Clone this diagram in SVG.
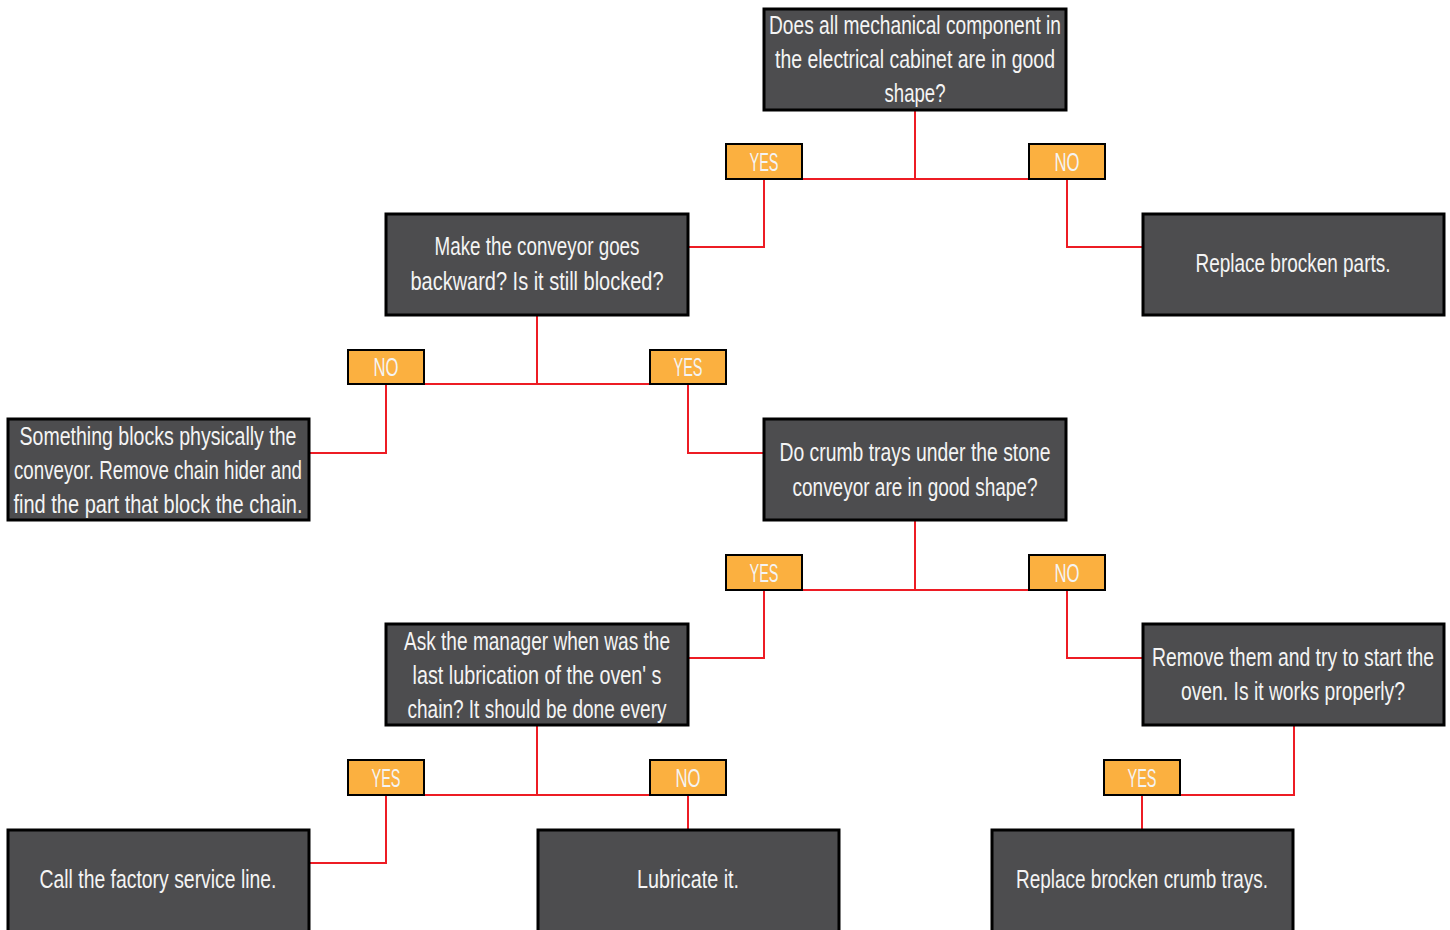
<svg xmlns="http://www.w3.org/2000/svg" width="1450" height="930" viewBox="0 0 1450 930">
<style>
.node{fill:#4d4d4f;stroke:#000;stroke-width:3}
.lab{fill:#fbb040;stroke:#000;stroke-width:2}
.t{font-family:"Liberation Sans",Arial,sans-serif;font-size:25px;fill:#f4f4f4;text-anchor:middle}
.c{fill:none;stroke:#ed1c24;stroke-width:2}
</style>
<rect width="1450" height="930" fill="#fff"/>
<g id="connectors">
<path class="c" d="M915,111V179M764,179H1067M764,179V247H689M1067,179V247H1142"/>
<path class="c" d="M537,316V384M386,384H688M386,384V453H310M688,384V453H764"/>
<path class="c" d="M915,521V590M764,590H1067M764,590V658H689M1067,590V658H1142"/>
<path class="c" d="M537,726V795M386,795H688M386,795V863H310M688,795V829"/>
<path class="c" d="M1294,726V795H1142V829"/>
</g>
<g id="labels">
<g id="lab-a-yes"><rect class="lab" x="726" y="144" width="76" height="35"/><text class="t" x="764" y="171" textLength="29" lengthAdjust="spacingAndGlyphs">YES</text></g>
<g id="lab-a-no"><rect class="lab" x="1029" y="144" width="76" height="35"/><text class="t" x="1067" y="171" textLength="25" lengthAdjust="spacingAndGlyphs">NO</text></g>
<g id="lab-b-no"><rect class="lab" x="348" y="350" width="76" height="34"/><text class="t" x="386" y="376" textLength="25" lengthAdjust="spacingAndGlyphs">NO</text></g>
<g id="lab-b-yes"><rect class="lab" x="650" y="350" width="76" height="34"/><text class="t" x="688" y="376" textLength="29" lengthAdjust="spacingAndGlyphs">YES</text></g>
<g id="lab-c-yes"><rect class="lab" x="726" y="555" width="76" height="35"/><text class="t" x="764" y="582" textLength="29" lengthAdjust="spacingAndGlyphs">YES</text></g>
<g id="lab-c-no"><rect class="lab" x="1029" y="555" width="76" height="35"/><text class="t" x="1067" y="582" textLength="25" lengthAdjust="spacingAndGlyphs">NO</text></g>
<g id="lab-d-yes"><rect class="lab" x="348" y="760" width="76" height="35"/><text class="t" x="386" y="787" textLength="29" lengthAdjust="spacingAndGlyphs">YES</text></g>
<g id="lab-d-no"><rect class="lab" x="650" y="760" width="76" height="35"/><text class="t" x="688" y="787" textLength="25" lengthAdjust="spacingAndGlyphs">NO</text></g>
<g id="lab-e-yes"><rect class="lab" x="1104" y="760" width="76" height="35"/><text class="t" x="1142" y="787" textLength="29" lengthAdjust="spacingAndGlyphs">YES</text></g>
</g>
<g id="node-a"><rect class="node" x="764" y="9" width="302" height="101"/>
<text class="t" x="915" y="34" textLength="292" lengthAdjust="spacingAndGlyphs">Does all mechanical component in</text>
<text class="t" x="915" y="68" textLength="280" lengthAdjust="spacingAndGlyphs">the electrical cabinet are in good</text>
<text class="t" x="915" y="102" textLength="61" lengthAdjust="spacingAndGlyphs">shape?</text></g>
<g id="node-b"><rect class="node" x="386" y="214" width="302" height="101"/>
<text class="t" x="537" y="255" textLength="205" lengthAdjust="spacingAndGlyphs">Make the conveyor goes</text>
<text class="t" x="537" y="290" textLength="253" lengthAdjust="spacingAndGlyphs">backward? Is it still blocked?</text></g>
<g id="node-r1"><rect class="node" x="1143" y="214" width="301" height="101"/>
<text class="t" x="1293" y="272" textLength="195" lengthAdjust="spacingAndGlyphs">Replace brocken parts.</text></g>
<g id="node-s"><rect class="node" x="8" y="419" width="301" height="101"/>
<text class="t" x="158" y="445" textLength="277" lengthAdjust="spacingAndGlyphs">Something blocks physically the</text>
<text class="t" x="158" y="479" textLength="288" lengthAdjust="spacingAndGlyphs">conveyor. Remove chain hider and</text>
<text class="t" x="158" y="513" textLength="289" lengthAdjust="spacingAndGlyphs">find the part that block the chain.</text></g>
<g id="node-c"><rect class="node" x="764" y="419" width="302" height="101"/>
<text class="t" x="915" y="461" textLength="271" lengthAdjust="spacingAndGlyphs">Do crumb trays under the stone</text>
<text class="t" x="915" y="496" textLength="245" lengthAdjust="spacingAndGlyphs">conveyor are in good shape?</text></g>
<g id="node-d"><rect class="node" x="386" y="624" width="302" height="101"/>
<text class="t" x="537" y="650" textLength="266" lengthAdjust="spacingAndGlyphs">Ask the manager when was the</text>
<text class="t" x="537" y="684" textLength="249" lengthAdjust="spacingAndGlyphs">last lubrication of the oven' s</text>
<text class="t" x="537" y="718" textLength="259" lengthAdjust="spacingAndGlyphs">chain? It should be done every</text></g>
<g id="node-e"><rect class="node" x="1143" y="624" width="301" height="101"/>
<text class="t" x="1293" y="666" textLength="282" lengthAdjust="spacingAndGlyphs">Remove them and try to start the</text>
<text class="t" x="1293" y="700" textLength="224" lengthAdjust="spacingAndGlyphs">oven. Is it works properly?</text></g>
<g id="node-f"><rect class="node" x="8" y="830" width="301" height="103"/>
<text class="t" x="158" y="888" textLength="237" lengthAdjust="spacingAndGlyphs">Call the factory service line.</text></g>
<g id="node-g"><rect class="node" x="538" y="830" width="301" height="103"/>
<text class="t" x="688" y="888" textLength="102" lengthAdjust="spacingAndGlyphs">Lubricate it.</text></g>
<g id="node-h"><rect class="node" x="992" y="830" width="301" height="103"/>
<text class="t" x="1142" y="888" textLength="252" lengthAdjust="spacingAndGlyphs">Replace brocken crumb trays.</text></g>
</svg>
